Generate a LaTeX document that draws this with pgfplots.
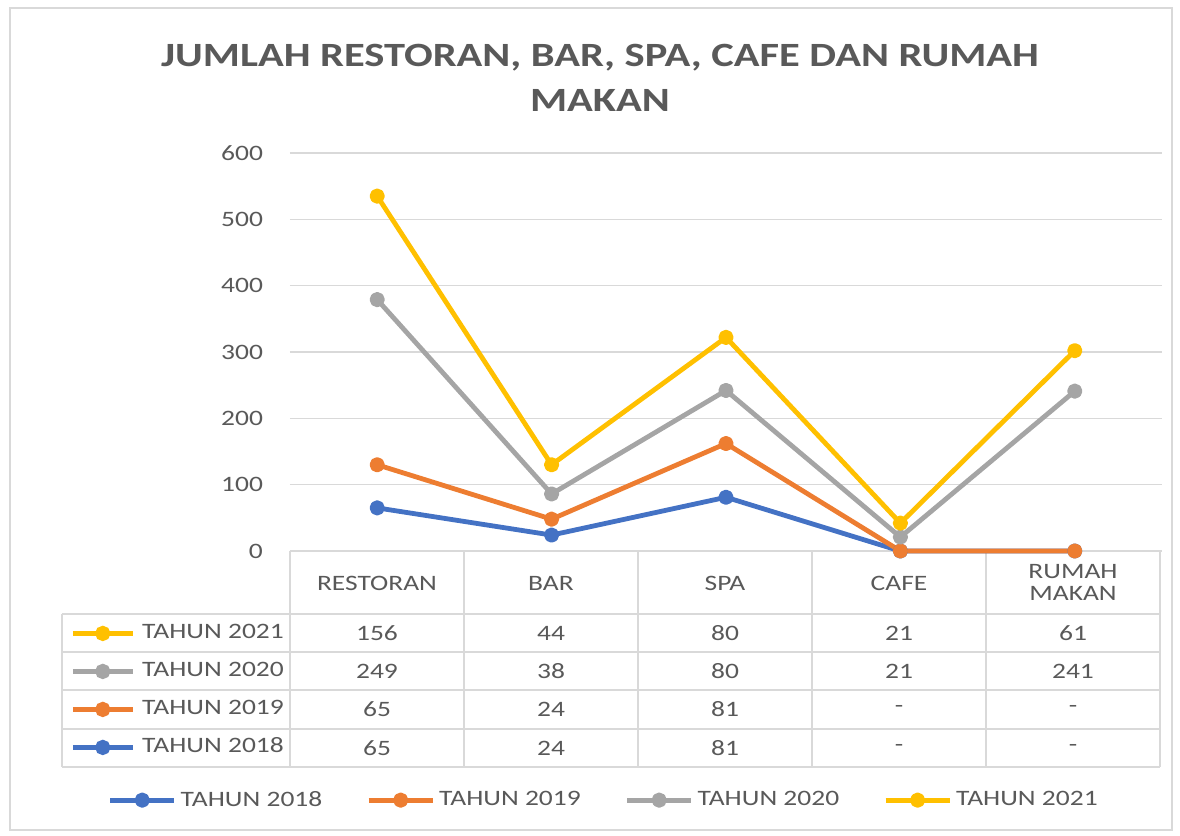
\documentclass[border=0pt]{standalone}
\usepackage{pgfplots}
\usepackage{pgfplotstable}
\pgfplotsset{compat=1.18}
\usepackage{fontspec}
\setmainfont{Carlito}[FakeStretch=1.25]
\definecolor{c18}{HTML}{4472C4}
\definecolor{c19}{HTML}{ED7D31}
\definecolor{c20}{HTML}{A5A5A5}
\definecolor{c21}{HTML}{FFC000}
\definecolor{txt}{HTML}{595959}
\definecolor{grd}{HTML}{D9D9D9}
\pgfplotstableread{
x y18 y19 y20 y21
0 65 65 249 156
1 24 24 38 44
2 81 81 80 80
3 0 0 21 21
4 0 0 241 61
}\datatable
\newcommand{\tf}{\fontsize{11}{13}\selectfont}
\begin{document}
\begin{tikzpicture}[x=0.5pt,y=0.5pt]
\path (0,0) rectangle (1180,836);
\draw[grd, line width=0.75pt] (10,6) rectangle (1172,828);
% title
\node[align=center, text=txt, font=\fontsize{17}{22.5}\selectfont\bfseries] at (600,836-78) {JUMLAH RESTORAN, BAR, SPA, CAFE DAN RUMAH\\MAKAN};
% table grid
\foreach \yy in {614,652,690,729,767} {\draw[grd, line width=0.75pt] (62,836-\yy) -- (1160,836-\yy);}
\foreach \xx in {290,464,638,812,986,1160} {\draw[grd, line width=0.75pt] (\xx,836-551) -- (\xx,836-767);}
\draw[grd, line width=0.75pt] (62,836-614) -- (62,836-767);
% header
\begin{scope}[every node/.style={text=txt, font=\tf, align=center}]
\node at (377,836-583) {RESTORAN};
\node at (551,836-583) {BAR};
\node at (725,836-583) {SPA};
\node at (899,836-583) {CAFE};
\node at (1073,836-582) {RUMAH\\[-2pt]MAKAN};
% rows
\foreach \v [count=\i from 0] in {156,44,80,21,61} {\node at (377+174*\i,836-633) {\v};}
\foreach \v [count=\i from 0] in {249,38,80,21,241} {\node at (377+174*\i,836-671) {\v};}
\foreach \v [count=\i from 0] in {65,24,81,-,-} {\node at (377+174*\i,836-709) {\v};}
\foreach \v [count=\i from 0] in {65,24,81,-,-} {\node at (377+174*\i,836-748) {\v};}
\end{scope}
% main axis
\begin{axis}[at={(145pt,142.5pt)}, anchor=south west, scale only axis,
  width=436pt, height=199pt,
  xmin=-0.5, xmax=4.5, ymin=0, ymax=600,
  ytick={0,100,...,600}, xtick=\empty,
  axis line style={draw=none}, major tick length=0pt,
  ymajorgrids, grid style={grd, line width=0.75pt},
  tick label style={font=\tf, text=txt},
  yticklabel style={xshift=-10pt},
  /pgf/number format/assume math mode=true,
  stack plots=y, reverse stacked plots=false, clip=false,
  every axis plot/.append style={line width=2.4pt, line join=round, mark=*, mark size=2.6pt, mark options={solid}},
  legend columns=4,
  legend image code/.code={\draw[mark repeat=2,mark phase=2] plot coordinates {(0pt,0pt) (16pt,0pt) (32pt,0pt)};},
  legend style={at={(0.361,-0.626)}, anchor=center, draw=none, fill=none, font=\tf, text=txt,
    /tikz/every even column/.append style={column sep=20pt}},
]
\addplot[c18] table[x=x,y=y18]{\datatable};
\addlegendentry{TAHUN 2018}
\addplot[c19] table[x=x,y=y19]{\datatable};
\addlegendentry{TAHUN 2019}
\addplot[c20] table[x=x,y=y20]{\datatable};
\addlegendentry{TAHUN 2020}
\addplot[c21] table[x=x,y=y21]{\datatable};
\addlegendentry{TAHUN 2021}
\end{axis}
% table legend keys
\begin{axis}[at={(145pt,142.5pt)}, anchor=south west, scale only axis,
  width=436pt, height=199pt, hide axis,
  xmin=0, xmax=1, ymin=0, ymax=1,
  legend columns=1,
  legend cell align=left,
  legend image code/.code={\draw[mark repeat=2,mark phase=2] plot coordinates {(0pt,0pt) (15pt,0pt) (30pt,0pt)};},
  legend style={at={(-0.2523,-0.181)}, anchor=north west, draw=none, fill=none, font=\tf, text=txt,
    inner sep=0pt, row sep=9pt, nodes={inner sep=0pt, text height=7.5pt, text depth=2.5pt},
    /tikz/every odd column/.append style={column sep=3.5pt}},
  every axis plot/.append style={line width=2.4pt, mark=*, mark size=2.6pt, mark options={solid}},
]
\addlegendimage{c21}
\addlegendentry{TAHUN 2021}
\addlegendimage{c20}
\addlegendentry{TAHUN 2020}
\addlegendimage{c19}
\addlegendentry{TAHUN 2019}
\addlegendimage{c18}
\addlegendentry{TAHUN 2018}
\end{axis}
\end{tikzpicture}
\end{document}
